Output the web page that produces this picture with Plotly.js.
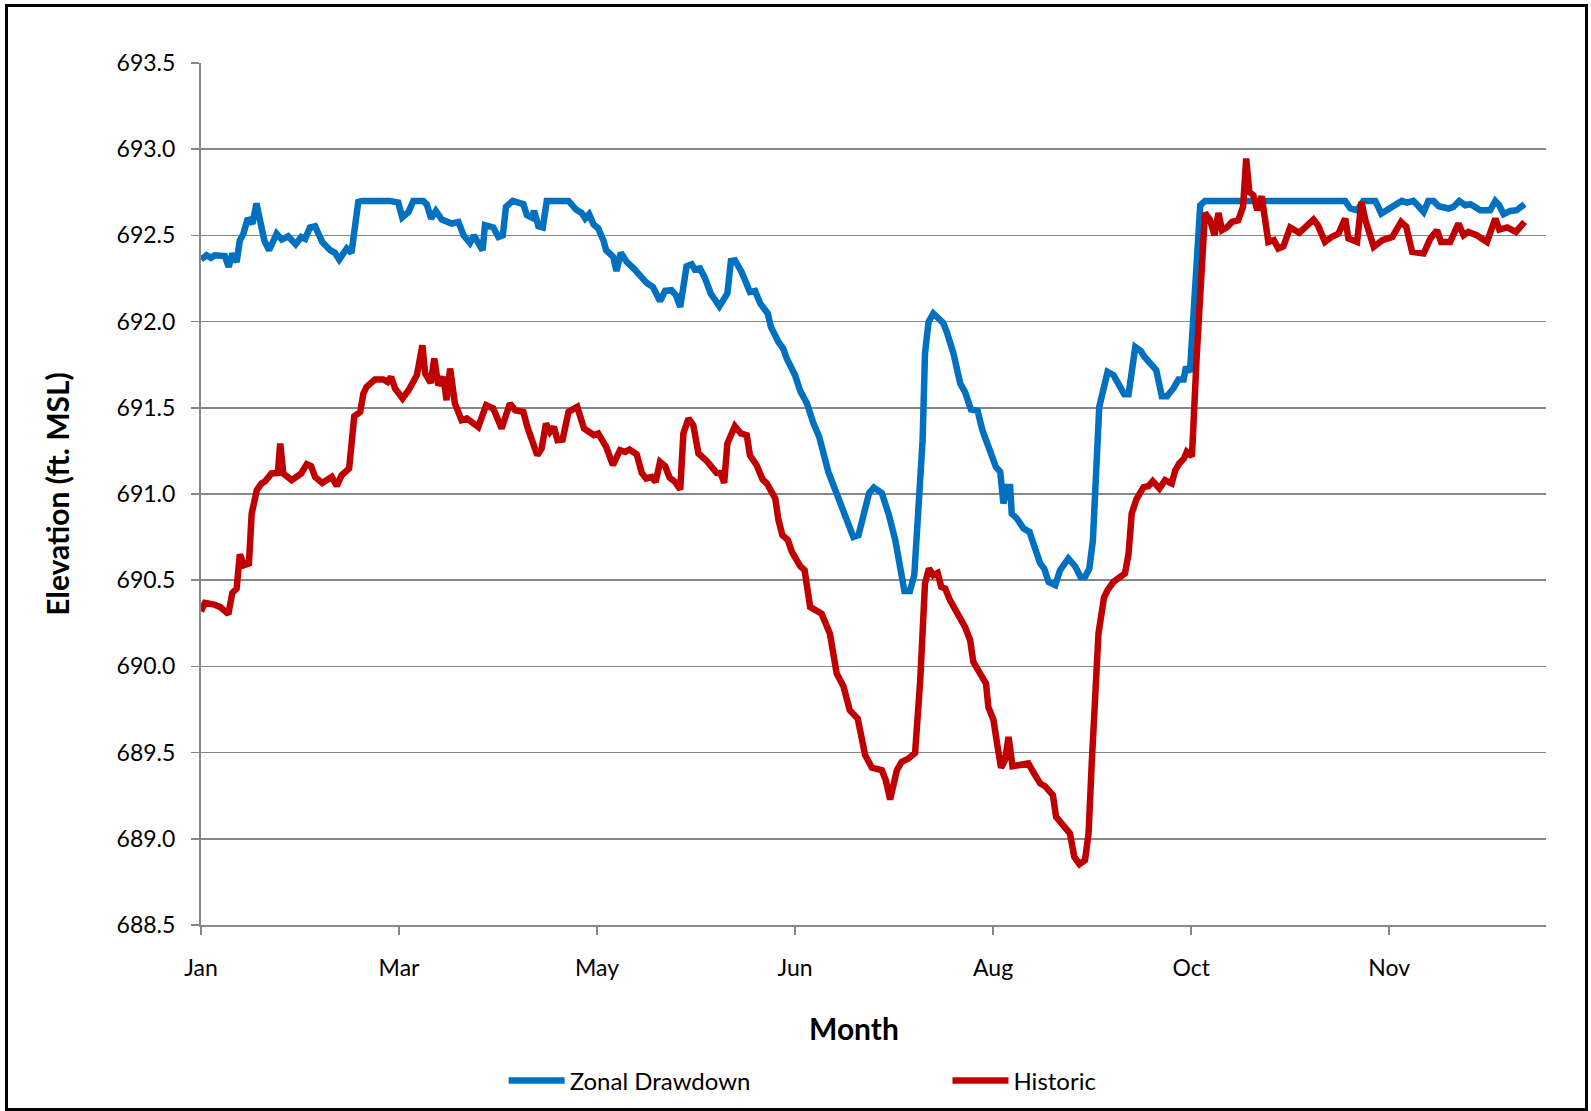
<!DOCTYPE html>
<html>
<head>
<meta charset="utf-8">
<script src="https://cdn.plot.ly/plotly-3.0.1.min.js"></script>
<style>
  html, body { margin: 0; padding: 0; background: #ffffff; }
  #wrap { position: relative; width: 1591px; height: 1111px; }
  #chart { width: 1591px; height: 1111px; }
  #frame { position: absolute; left: 5px; top: 4px; width: 1577px; height: 1101px; border: 3px solid #000; pointer-events: none; }
</style>
</head>
<body>
<div id="wrap">
  <div id="chart"></div>
  <div id="frame"></div>
</div>
<script>
// x positions are days from the start of the record; labels every 50 days
const tickDays = [0, 50, 100, 150, 200, 250, 300];
const tickLabels = ['Jan', 'Mar', 'May', 'Jun', 'Aug', 'Oct', 'Nov'];
const yTicks = [688.5, 689.0, 689.5, 690.0, 690.5, 691.0, 691.5, 692.0, 692.5, 693.0, 693.5];

const zonalDays = [0, 1.4, 2.5, 3.5, 6, 7, 7.9, 9, 9.8, 10.7, 11.8, 13, 14, 15.3, 16, 17.2, 19.1, 20.4, 22, 23.9,
  25.3, 26.3, 27.5, 28.8, 30.6, 32.6, 33.8, 34.9, 36.8, 38, 39.7, 40.6, 47.7, 49.8, 50.8, 52.4, 53.6, 56.1, 57, 58.1,
  59.3, 60.8, 63.3, 65, 66.3, 67.9, 68.9, 71.1, 71.7, 73.8, 75.1, 76.2, 77, 78.7, 80.1, 81.4, 82.3, 83.5, 84.1, 85.2,
  86.3, 87.3, 88.6, 90, 92.8, 94.7, 96.1, 97, 98, 99.1, 100.3, 101.6, 102.3, 104.1, 104.9, 106, 107.5, 109.3, 111, 112.5,
  114.1, 115.9, 117.2, 118.8, 119.9, 121, 122.6, 123.9, 124.7, 126, 127.3, 128.7, 130.9, 132.9, 133.8, 134.8, 136.5, 138.6, 139.9, 141.2,
  143.1, 143.9, 145.8, 147, 147.9, 150, 151.3, 153, 154.6, 156.1, 158.4, 160.5, 162.6, 164.7, 166, 167.2, 168.7, 169.9, 171.9, 173.7,
  175.3, 177.6, 179, 180.1, 181.1, 182.2, 182.8, 183.7, 184.9, 187.4, 188.3, 190, 191.7, 192.9, 194.4, 196.1, 197.3, 199.8, 200.7, 201.8,
  202.6, 203.5, 204.3, 204.7, 206, 207.7, 209.2, 210.6, 211.9, 212.9, 214, 215.7, 216.9, 219, 220.7, 222.1, 223.2, 224.3, 225.2, 226.8,
  227.9, 228.9, 230.4, 231.6, 233.1, 234.2, 235, 235.9, 237.3, 238.1, 239.6, 241.2, 242.6, 243.9, 245.5, 246.8, 248.1, 248.7, 249.7, 251.3,
  252.3, 253.5, 288.9, 290.2, 291.9, 293.5, 296.5, 298, 299.8, 301.5, 303.2, 304.5, 306.1, 307.2, 308.7, 309.9, 311.2, 312.5, 315, 316.2,
  317.7, 319.2, 320.5, 321.7, 323, 325.5, 326.8, 327.8, 328.9, 330.6, 332.2, 334.2];
const zonalElev = [692.36, 692.385, 692.37, 692.385, 692.38, 692.317, 692.395, 692.346, 692.47, 692.51, 692.598, 692.569, 692.685, 692.55, 692.47, 692.414, 692.51, 692.476, 692.495, 692.449,
  692.491, 692.48, 692.546, 692.553, 692.462, 692.414, 692.399, 692.36, 692.424, 692.399, 692.694, 692.70, 692.70, 692.69, 692.604, 692.636, 692.70, 692.70, 692.68, 692.598,
  692.642, 692.592, 692.569, 692.578, 692.50, 692.456, 692.50, 692.414, 692.559, 692.546, 692.491, 692.50, 692.665, 692.70, 692.689, 692.681, 692.617, 692.604, 692.642, 692.553,
  692.546, 692.70, 692.70, 692.70, 692.70, 692.65, 692.63, 692.598, 692.623, 692.565, 692.54, 692.472, 692.414, 692.375, 692.294, 692.399, 692.346, 692.308, 692.256, 692.225,
  692.201, 692.12, 692.178, 692.182, 692.153, 692.085, 692.321, 692.333, 692.302, 692.308, 692.25, 692.163, 692.089, 692.163, 692.352, 692.356, 692.288, 692.172, 692.178, 692.105,
  692.047, 691.969, 691.882, 691.844, 691.786, 691.689, 691.598, 691.525, 691.412, 691.331, 691.128, 691.003, 690.867, 690.751, 690.761, 690.867, 691.006, 691.037, 691.006, 690.877,
  690.732, 690.438, 690.438, 690.529, 690.925, 691.312, 691.815, 691.998, 692.047, 691.992, 691.94, 691.815, 691.641, 691.592, 691.49, 691.482, 691.37, 691.215, 691.157, 691.128,
  690.945, 691.041, 691.041, 690.887, 690.858, 690.80, 690.78, 690.684, 690.597, 690.568, 690.49, 690.471, 690.558, 690.626, 690.581, 690.519, 690.519, 690.568, 690.732, 691.505,
  691.612, 691.708, 691.689, 691.641, 691.579, 691.579, 691.718, 691.853, 691.83, 691.799, 691.76, 691.718, 691.567, 691.567, 691.612, 691.664, 691.664, 691.737, 691.708, 692.24,
  692.675, 692.70, 692.70, 692.656, 692.646, 692.70, 692.70, 692.627, 692.656, 692.675, 692.70, 692.69, 692.70, 692.675, 692.636, 692.70, 692.70, 692.669, 692.656, 692.665,
  692.70, 692.675, 692.681, 692.665, 692.646, 692.646, 692.70, 692.675, 692.623, 692.642, 692.646, 692.681];

const historicDays = [0, 1, 3.1, 4.8, 6.9, 7.9, 9, 9.8, 10.9, 12.1, 12.8, 14.1, 15.3, 16.3, 17.8, 19.4, 20, 20.8, 22.9, 25.3,
  26.7, 27.8, 28.8, 30.6, 33, 34.3, 35.5, 37.4, 38.7, 40.2, 41, 41.8, 43.9, 46, 47.1, 48, 49, 50.9, 52.4, 54.5,
  55.9, 56.6, 58, 58.9, 59.9, 61.2, 62, 62.9, 64.1, 65.8, 67.1, 69.2, 70, 72, 73.8, 75.9, 78, 79.3, 81.4, 82.4,
  83.5, 84.9, 86, 87.1, 88.1, 89.1, 90, 91.3, 92.8, 93.9, 95, 96.7, 99.2, 100.3, 102.3, 104, 105.8, 107.1, 108.2, 110,
  111.3, 112.4, 113.8, 114.8, 115.9, 117.2, 118.3, 119.7, 121, 121.8, 123.1, 124.3, 125.6, 127.7, 130.2, 131.2, 132.1, 132.9, 134.8, 136.3,
  137.8, 138.6, 140.3, 141.8, 142.9, 145, 145.8, 146.8, 148.2, 149.2, 151.3, 152.4, 153.8, 156.7, 158, 158.8, 160.5, 162.2, 163.8, 165.8,
  167.7, 169.4, 171.9, 172.9, 174, 175.7, 176.9, 178.6, 180.3, 181.6, 182.8, 183.8, 184.9, 186, 186.9, 187.9, 189.1, 191.2, 192.9, 194.2,
  195, 196.7, 198.2, 198.8, 200.1, 201, 202, 203, 203.9, 204.9, 206.8, 208.9, 210.6, 211.9, 213.1, 215.1, 215.9, 217.3, 219.4, 220.5,
  221.8, 223.2, 224.1, 224.9, 225.8, 226.6, 228, 228.9, 230.4, 232.1, 233.3, 234.2, 235, 236.2, 238, 239.2, 240.3, 242, 243.4, 245.1,
  246, 247, 248.2, 248.9, 250.2, 251.4, 252.7, 253.5, 254.8, 255.9, 256.9, 257.8, 259, 260.3, 261.9, 263.1, 263.9, 264.7, 265.7, 266.7,
  267.8, 269.5, 270.9, 272, 273.3, 275, 277.3, 279.2, 280.9, 282, 283.8, 285.5, 287.2, 288.9, 289.7, 291.9, 293, 294, 296.1, 298.3,
  300.8, 303, 304.3, 305.8, 307.4, 308.7, 310.4, 312.1, 313.1, 315.4, 317.5, 318.8, 320, 322.1, 324.7, 326.8, 327.8, 329.8, 332, 334.2];
const historicElev = [690.32, 690.368, 690.36, 690.345, 690.303, 690.426, 690.452, 690.65, 690.587, 690.597, 690.887, 691.022, 691.061, 691.076, 691.119, 691.122, 691.293, 691.119, 691.08, 691.119,
  691.173, 691.161, 691.099, 691.064, 691.099, 691.047, 691.109, 691.148, 691.451, 691.476, 691.583, 691.621, 691.664, 691.664, 691.65, 691.679, 691.612, 691.554, 691.602, 691.689,
  691.863, 691.699, 691.644, 691.786, 691.631, 691.679, 691.544, 691.728, 691.525, 691.428, 691.438, 691.40, 691.389, 691.515, 691.496, 691.38, 691.525, 691.486, 691.476, 691.389,
  691.302, 691.225, 691.264, 691.409, 691.36, 691.389, 691.312, 691.316, 691.476, 691.49, 691.505, 691.38, 691.341, 691.351, 691.273, 691.167, 691.254, 691.244, 691.258, 691.231,
  691.122, 691.09, 691.099, 691.07, 691.186, 691.161, 691.096, 691.07, 691.026, 691.351, 691.438, 691.399, 691.235, 691.192, 691.122, 691.122, 691.064, 691.293, 691.393, 691.351,
  691.341, 691.225, 691.167, 691.084, 691.061, 690.974, 690.848, 690.761, 690.732, 690.664, 690.581, 690.558, 690.345, 690.306, 690.229, 690.19, 689.959, 689.885, 689.746, 689.698,
  689.485, 689.413, 689.398, 689.34, 689.228, 689.398, 689.446, 689.465, 689.498, 689.92, 690.481, 690.568, 690.529, 690.542, 690.461, 690.452, 690.384, 690.306, 690.229, 690.152,
  690.026, 689.959, 689.901, 689.765, 689.688, 689.553, 689.413, 689.456, 689.591, 689.421, 689.427, 689.437, 689.369, 689.321, 689.305, 689.253, 689.127, 689.089, 689.031, 688.895,
  688.853, 688.876, 689.031, 689.437, 689.843, 690.19, 690.40, 690.442, 690.49, 690.519, 690.539, 690.655, 690.887, 690.97, 691.04, 691.045, 691.075, 691.032, 691.08, 691.061,
  691.138, 691.177, 691.206, 691.244, 691.219, 691.795, 692.414, 692.63, 692.588, 692.501, 692.63, 692.53, 692.546, 692.578, 692.588, 692.665, 692.946, 692.752, 692.733, 692.646,
  692.727, 692.462, 692.472, 692.424, 692.437, 692.546, 692.515, 692.553, 692.592, 692.559, 692.462, 692.491, 692.51, 692.598, 692.482, 692.462, 692.694, 692.588, 692.434, 692.472,
  692.491, 692.578, 692.55, 692.404, 692.404, 692.395, 692.482, 692.53, 692.462, 692.462, 692.569, 692.501, 692.52, 692.501, 692.462, 692.598, 692.534, 692.546, 692.52, 692.578];

const FONT = 'Lato, "Open Sans", sans-serif';
const GRID = '#878787';

const traces = [
  { x: zonalDays, y: zonalElev, type: 'scatter', mode: 'lines', name: 'Zonal Drawdown',
    line: { color: '#0070C0', width: 6.5 }, legend: 'legend' },
  { x: historicDays, y: historicElev, type: 'scatter', mode: 'lines', name: 'Historic',
    line: { color: '#C00000', width: 6.5 }, legend: 'legend2' }
];

const legendCommon = {
  orientation: 'h', yanchor: 'middle', xanchor: 'left', y: -0.181,
  font: { family: FONT, size: 24, color: '#000' }, bgcolor: 'rgba(0,0,0,0)', borderwidth: 0,
  itemwidth: 56
};

const layout = {
  width: 1591, height: 1111,
  margin: { l: 201, r: 45, t: 63, b: 186, autoexpand: false },
  paper_bgcolor: '#ffffff', plot_bgcolor: '#ffffff',
  font: { family: FONT, color: '#000' },
  showlegend: true,
  legend: Object.assign({}, legendCommon, { x: 0.225 }),
  legend2: Object.assign({}, legendCommon, { x: 0.555 }),
  annotations: [{
    text: 'Month', xref: 'paper', yref: 'paper', x: 0.4855, y: -0.1195,
    xanchor: 'center', yanchor: 'middle', showarrow: false,
    font: { family: FONT, size: 30, color: '#000', weight: 'bold' }
  }],
  xaxis: {
    range: [0, 339.6], tickmode: 'array', tickvals: tickDays, ticktext: tickLabels,
    showgrid: false, zeroline: false, showline: true, linecolor: GRID, linewidth: 2,
    ticks: 'outside', ticklen: 8, tickwidth: 1.5, tickcolor: GRID, ticklabelstandoff: 13,
    tickfont: { family: FONT, size: 23, color: '#000' },
    automargin: false, fixedrange: true
  },
  yaxis: {
    range: [688.5, 693.5], tickmode: 'array', tickvals: yTicks, tickformat: '.1f',
    showgrid: true, gridcolor: GRID, gridwidth: 1.5, zeroline: false,
    showline: true, linecolor: GRID, linewidth: 2,
    ticks: 'outside', ticklen: 8, tickwidth: 1.5, tickcolor: GRID, ticklabelstandoff: 11,
    tickfont: { family: FONT, size: 23, color: '#000' },
    title: { text: 'Elevation (ft. MSL)', font: { family: FONT, size: 30, color: '#000', weight: 'bold' }, standoff: 38 },
    automargin: false, fixedrange: true
  }
};

Plotly.newPlot('chart', traces, layout, { displayModeBar: false, staticPlot: true });
</script>
</body>
</html>
